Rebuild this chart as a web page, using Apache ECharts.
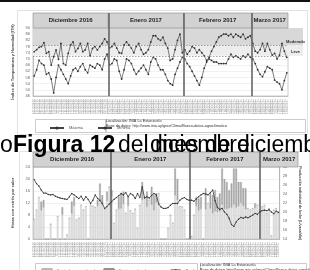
<!DOCTYPE html>
<html>
<head>
<meta charset="utf-8">
<script src="https://cdn.jsdelivr.net/npm/echarts@6/dist/echarts.min.js"></script>
<style>
html, body { margin: 0; padding: 0; background: #fff; }
#chart { width: 310px; height: 270px; }
</style>
</head>
<body>
<div id="chart"></div>
<script>
// periodo: 1 dic 2016 - 15 mar 2017
const meses = ["Diciembre 2016", "Enero 2017", "Febrero 2017", "Marzo 2017"];
const mesNum = ["12", "01", "02", "03"];
const mesAnio = ["2016", "2017", "2017", "2017"];
const diasMes = [31, 31, 28, 15];

// ITH diario (máxima / mínima)
const ithMax = [
  74.7, 76, 77.5, 78, 80.5, 73.6, 74.7, 66, 71.4, 75.8, 69.7, 80, 67, 66, 73.6, 79, 81, 74.7, 76.8, 80, 74.7, 75.8, 80, 72, 76.8, 78, 75.8, 78, 80, 83, 81,
  77, 78, 80, 77, 74, 73.6, 79, 81, 79, 77, 74, 78, 80, 76, 73, 74, 76, 81, 85, 85, 83, 82, 84, 80, 77, 69, 70, 76, 82, 86, 74,
  76, 73, 75, 78, 77, 74, 76, 74, 72, 69, 71, 75, 78, 81, 84, 85, 86, 86, 85, 86, 84, 86, 85, 84, 86, 83, 84, 85,
  80, 75, 74, 76, 80, 75, 80, 76, 72.5, 73.6, 70, 72.5, 80, 75, 71
];
const ithMin = [
  59, 63, 69, 67, 66, 60, 61, 57, 48, 58, 66, 63, 60, 57, 54, 59, 63, 64, 62, 65, 67, 63, 61, 66, 65, 64, 67, 66, 63, 70, 73,
  66, 67, 70, 69, 62, 57, 63, 70, 69, 67, 63, 60, 62, 64, 66, 63, 60, 68, 71, 70, 66, 63, 63, 60, 56, 54, 53, 60, 64, 68, 71,
  70, 67, 65, 62, 59, 56, 53, 58, 64, 68, 70, 69, 68, 68, 67, 67, 67, 67, 70, 73, 71, 72, 71, 70, 72, 71, 73, 71,
  70, 67, 63, 60, 58.5, 61.7, 65, 64, 63, 56.3, 55, 54, 50, 56, 61
];
const ithTicks = { min: 46, max: 90, step: 4 };
const umbralLeve = 72;
const umbralModerado = 79;

// horas con estrés por calor
const horasLeve = [
  6.6, 9.7, 13.9, 9.5, 10.5, 0, 0, 5, 0, 0, 7.5, 0, 8.1, 0, 1.4, 7, 8.5, 11, 6.4, 7, 11.3, 9.7, 10.8, 0, 11.3, 11, 10.6, 11, 12.5, 11.6, 10,
  12.8, 17.4, 14.3, 5.3, 9.7, 10, 10.2, 11.8, 8.6, 11, 9.5, 8.6, 10, 3.6, 11.3, 13, 14, 10.8, 13, 11.4, 9.6, 12.2, 15.2, 0, 0, 0, 3.6, 8, 5.3, 14.5, 13,
  10.8, 10.8, 9.7, 0, 0, 0.9, 8, 11, 9.5, 10, 0, 9.9, 11.9, 10.2, 8.6, 9.3, 9, 9.2, 11.5, 10, 10, 10.3, 10.5, 11.5, 10.5, 11, 12, 11,
  9.9, 10.2, 9.7, 10.2, 10.4, 11.3, 9.7, 10.8, 11.3, 8.6, 10.2, 1.1, 9.7, 10.2, 9
];
const horasSevero = [
  0, 0, 0, 3, 2.5, 0, 0, 0, 0, 0, 0, 0, 2.5, 0, 0, 0, 4, 3, 0, 0, 0, 0, 0, 0, 0, 0, 0, 2, 6, 3, 0,
  3, 0, 2, 0, 0, 4, 5, 4, 0, 3, 0, 0, 0, 0, 0, 6, 0, 5, 0, 6, 5, 3, 0, 0, 0, 0, 0, 0, 0, 9, 7,
  0, 0, 0, 0, 0, 0, 0, 3, 4, 4, 0, 7, 0, 5, 6, 7, 5, 6, 12, 10, 9, 6, 8, 12, 13, 8, 7, 6,
  7, 0, 0, 0, 1.5, 0, 0, 0, 0, 0, 0, 0, 0, 0, 0
];
// producción individual de leche (L/vaca/día)
const produccion = [
  27.2, 26.3, 25.8, 24.9, 24.2, 24.2, 23.9, 23.8, 23.9, 23.5, 23.3, 23.1, 23.0, 22.9, 22.8, 23.4, 24.1, 23.8, 23.4, 23.0, 23.5, 22.6, 23.4, 22.8, 21.9, 22.6, 23.8, 23.0, 22.6, 21.9, 20.8,
  21.2, 21.8, 22.3, 22.8, 23.2, 23.6, 24.1, 23.8, 24.3, 23.4, 24.1, 23.8, 23.0, 24.1, 23.2, 25.6, 23.1, 23.4, 23.1, 23.7, 24.1, 23.8, 21.8, 21.1, 20.8, 20.8, 21.0, 21.5, 21.9, 21.9, 21.9,
  22.6, 23.0, 23.2, 22.8, 22.6, 22.6, 22.4, 22.9, 23.4, 23.8, 24.1, 24.0, 23.8, 24.3, 24.9, 22.5, 21.0, 20.6, 20.8, 20.0, 19.5, 18.6, 17.2, 16.8, 17.8, 18.4, 18.8, 18.6,
  18.9, 18.7, 19.0, 19.3, 19.7, 19.5, 20.0, 20.3, 20.4, 20.3, 20.5, 20.0, 19.6, 20.2, 19.9
];

// fechas del eje x
const fechas = [];
diasMes.forEach((n, i) => {
  for (let d = 1; d <= n; d++) {
    fechas.push((d < 10 ? "0" + d : d) + "/" + mesNum[i] + "/" + mesAnio[i]);
  }
});
const limites = [0];
diasMes.forEach(n => limites.push(limites[limites.length - 1] + n));
const totalDias = limites[limites.length - 1];

const FONT = "Liberation Sans";

// cabezales de los meses + líneas divisorias
function cabezal(yDesde) {
  return {
    type: "line",
    data: [[0, 0]],
    symbol: "none",
    lineStyle: { width: 0 },
    silent: true,
    z: 10,
    markArea: {
      silent: true,
      itemStyle: { color: "#d2d2d2", borderColor: "#8c8c8c", borderWidth: 0.6 },
      label: { show: true, position: "inside", fontSize: 6, fontWeight: "bold", color: "#222", fontFamily: FONT },
      data: meses.map((m, i) => [{ name: m, xAxis: limites[i], yAxis: yDesde }, { xAxis: limites[i + 1], yAxis: 1 }])
    },
    markLine: {
      silent: true,
      symbol: "none",
      label: { show: false },
      lineStyle: { color: "#666", width: 1.6, type: "solid" },
      data: limites.slice(1, -1).map(x => [{ coord: [x, 0] }, { coord: [x, 1] }])
    }
  };
}

const hiddenValue = (grid, min, max) => ({
  type: "value", gridIndex: grid, min: min, max: max, show: false
});

const chartDom = document.getElementById("chart");
const myChart = echarts.init(chartDom, null, { renderer: "canvas" });

const option = {
  animation: false,
  backgroundColor: "#fff",
  textStyle: { fontFamily: FONT },
  grid: [
    { left: 33, top: 28, width: 255, height: 68, show: true, borderColor: "#999", borderWidth: 0.5 },
    { left: 33, top: 13, width: 255, height: 83 },
    { left: 288, top: 28, width: 15, height: 68 },
    { left: 33, top: 167, width: 265, height: 72, show: true, borderColor: "#999", borderWidth: 0.5 },
    { left: 33, top: 152, width: 265, height: 87 }
  ],
  xAxis: [
    {
      type: "category", gridIndex: 0, data: fechas,
      axisLine: { lineStyle: { color: "#999", width: 0.5 } },
      axisTick: { show: false },
      axisLabel: { interval: 0, rotate: 90, fontSize: 3, color: "#9a9a9a", margin: 3 }
    },
    hiddenValue(1, 0, totalDias),
    hiddenValue(2, 0, 1),
    {
      type: "category", gridIndex: 3, data: fechas,
      axisLine: { lineStyle: { color: "#999", width: 0.5 } },
      axisTick: { show: false },
      axisLabel: { interval: 0, rotate: 90, fontSize: 3, color: "#9a9a9a", margin: 3 }
    },
    hiddenValue(4, 0, totalDias)
  ],
  yAxis: [
    {
      type: "value", gridIndex: 0, min: ithTicks.min, max: ithTicks.max, interval: ithTicks.step,
      name: "Índice de Temperatura y Humedad (ITH)", nameLocation: "middle", nameGap: 10,
      nameTextStyle: { fontSize: 4, color: "#444", fontWeight: "bold" },
      axisLine: { show: true, lineStyle: { color: "#999", width: 0.5 } },
      axisTick: { show: false },
      axisLabel: { fontSize: 4, color: "#666", margin: 3 },
      splitLine: { lineStyle: { color: "#e2e2e2", width: 0.5 } }
    },
    hiddenValue(1, 0, 1),
    hiddenValue(2, ithTicks.min, ithTicks.max),
    {
      type: "value", gridIndex: 3, min: 0, max: 24, interval: 4,
      name: "Horas con estrés por calor", nameLocation: "middle", nameGap: 10,
      nameTextStyle: { fontSize: 4, color: "#444", fontWeight: "bold" },
      axisLine: { show: true, lineStyle: { color: "#999", width: 0.5 } },
      axisTick: { show: false },
      axisLabel: { fontSize: 4, color: "#666", margin: 3 },
      splitLine: { lineStyle: { color: "#e2e2e2", width: 0.5 } }
    },
    {
      type: "value", gridIndex: 3, min: 14, max: 30, interval: 2, position: "right",
      name: "Producción individual de leche (L/vaca/día)", nameLocation: "middle", nameGap: 9,
      nameRotate: -90,
      nameTextStyle: { fontSize: 3.6, color: "#444", fontWeight: "bold" },
      axisLine: { show: true, lineStyle: { color: "#999", width: 0.5 } },
      axisTick: { show: false },
      axisLabel: { fontSize: 4, color: "#666", margin: 3 },
      splitLine: { show: false }
    },
    hiddenValue(4, 0, 1)
  ],
  legend: [
    {
      data: ["Máxima", "Mínima"], left: 44, top: 121,
      itemWidth: 14, itemHeight: 4, itemGap: 14,
      textStyle: { fontSize: 4, color: "#555" }
    },
    {
      data: ["Estrés leve a moderado", "Estrés moderado a severo", "Producción individual de leche"],
      left: 36, top: 263, itemWidth: 10, itemHeight: 3, itemGap: 6,
      textStyle: { fontSize: 3.8, color: "#555" }
    }
  ],
  series: [
    {
      name: "Máxima", type: "line", xAxisIndex: 0, yAxisIndex: 0, data: ithMax,
      symbol: "circle", symbolSize: 1.8,
      itemStyle: { color: "#333" }, lineStyle: { color: "#444", width: 0.7 },
      markArea: {
        silent: true,
        data: [
          [{ yAxis: umbralModerado, itemStyle: { color: "#d8d8d8" } }, { yAxis: ithTicks.max }],
          [{ yAxis: umbralLeve, itemStyle: { color: "#ededed" } }, { yAxis: umbralModerado }]
        ]
      },
      markLine: {
        silent: true, symbol: "none", label: { show: false },
        lineStyle: { color: "#666", width: 0.6, type: [1.5, 1.5] },
        data: [{ yAxis: umbralModerado }, { yAxis: umbralLeve }]
      }
    },
    {
      name: "Mínima", type: "line", xAxisIndex: 0, yAxisIndex: 0, data: ithMin,
      symbol: "circle", symbolSize: 1.8,
      itemStyle: { color: "#333" }, lineStyle: { color: "#444", width: 0.7 }
    },
    Object.assign(cabezal(68 / 83), { xAxisIndex: 1, yAxisIndex: 1 }),
    {
      type: "line", xAxisIndex: 2, yAxisIndex: 2, data: [[0, ithTicks.min]],
      symbol: "none", lineStyle: { width: 0 }, silent: true,
      markArea: {
        silent: true,
        label: { show: true, position: "insideBottom", fontSize: 4, fontWeight: "bold", color: "#333", distance: 1.5 },
        data: [
          [{ name: "Moderado", xAxis: 0, yAxis: umbralModerado, itemStyle: { color: "#d8d8d8" } }, { xAxis: 1, yAxis: ithTicks.max }],
          [{ name: "Leve", xAxis: 0, yAxis: umbralLeve, itemStyle: { color: "#ededed" } }, { xAxis: 1, yAxis: umbralModerado }]
        ]
      }
    },
    {
      name: "Estrés leve a moderado", type: "bar", xAxisIndex: 3, yAxisIndex: 3, stack: "horas",
      data: horasLeve, barWidth: "72%",
      itemStyle: { color: "#e2e2e2", borderColor: "#b8b8b8", borderWidth: 0.3 }
    },
    {
      name: "Estrés moderado a severo", type: "bar", xAxisIndex: 3, yAxisIndex: 3, stack: "horas",
      data: horasSevero, barWidth: "72%",
      itemStyle: { color: "#ababab", borderColor: "#929292", borderWidth: 0.3 }
    },
    {
      name: "Producción individual de leche", type: "line", xAxisIndex: 3, yAxisIndex: 4, data: produccion,
      symbol: "circle", symbolSize: 1.4, z: 5,
      itemStyle: { color: "#333" }, lineStyle: { color: "#333", width: 0.8 }
    },
    Object.assign(cabezal(72 / 87), { xAxisIndex: 4, yAxisIndex: 5 })
  ],
  graphic: [
    { type: "rect", left: 0, top: 0, shape: { width: 310, height: 2 }, style: { fill: "#111" } },
    // marco gráfico superior
    { type: "rect", left: 15, top: 8, shape: { width: 290, height: 124 }, style: { fill: "none", stroke: "#cfcfcf", lineWidth: 0.6 }, z: -1 },
    { type: "rect", left: 33, top: 117, shape: { width: 70, height: 13 }, style: { fill: "none", stroke: "#aaa", lineWidth: 0.6 } },
    { type: "rect", left: 104, top: 117, shape: { width: 199, height: 13 }, style: { fill: "none", stroke: "#aaa", lineWidth: 0.6 } },
    { type: "text", left: 106, top: 119, style: { text: "Localización: INIA La Estanzuela", fontSize: 3.8, fill: "#333", fontFamily: FONT } },
    { type: "text", left: 106, top: 124, style: { text: "Base de datos: http://www.inia.uy/gras/Clima/Banco-datos-agroclimatico", fontSize: 3.8, fill: "#333", fontFamily: FONT } },
    // leyenda de la figura (texto superpuesto)
    { type: "text", left: 0, top: 134, z: 50, style: { text: "o", fontSize: 23, fill: "#000", fontFamily: FONT } },
    { type: "text", left: 13, top: 134, z: 50, style: { text: "Figura 12", fontSize: 23, fontWeight: "bold", fill: "#000", fontFamily: FONT } },
    { type: "text", left: 118, top: 134, z: 50, style: { text: "del mes de diciembre", fontSize: 23, fill: "#000", fontFamily: FONT } },
    { type: "text", left: 150, top: 134, z: 50, style: { text: "diciembre", fontSize: 23, fill: "#000", fontFamily: FONT } },
    // marco gráfico inferior
    { type: "rect", left: 17, top: 149, shape: { width: 290, height: 125 }, style: { fill: "none", stroke: "#cfcfcf", lineWidth: 0.6 }, z: -1 },
    { type: "rect", left: 33, top: 261, shape: { width: 162, height: 12 }, style: { fill: "none", stroke: "#aaa", lineWidth: 0.6 } },
    { type: "rect", left: 198, top: 261, shape: { width: 106, height: 12 }, style: { fill: "none", stroke: "#aaa", lineWidth: 0.6 } },
    { type: "text", left: 200, top: 263, style: { text: "Localización: INIA La Estanzuela", fontSize: 3.8, fill: "#333", fontFamily: FONT } },
    { type: "text", left: 200, top: 268, style: { text: "Base de datos: http://www.inia.uy/gras/Clima/Banco-datos-agroclimatico", fontSize: 3.8, fill: "#333", fontFamily: FONT } }
  ]
};

option && myChart.setOption(option);
</script>
</body>
</html>
